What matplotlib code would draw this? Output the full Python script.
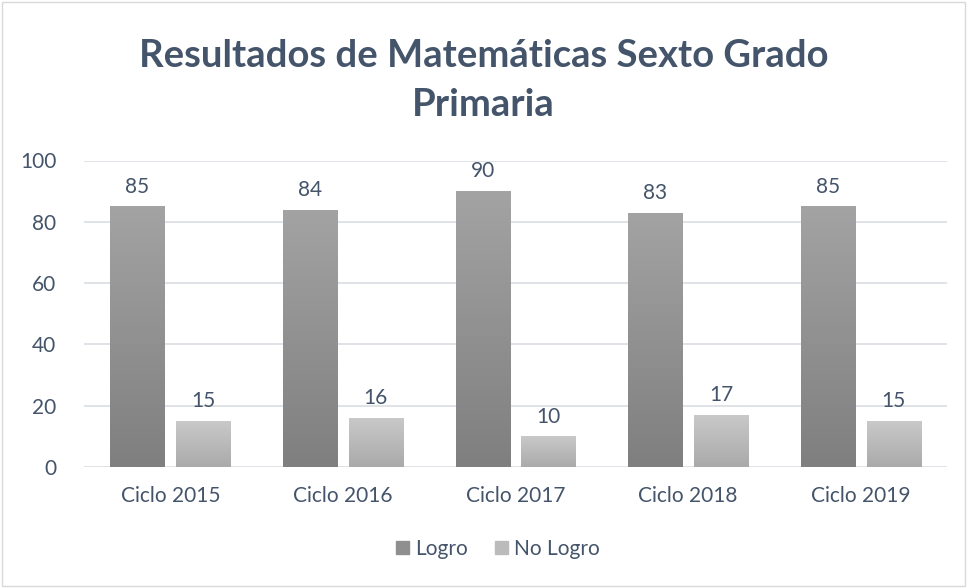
import numpy as np
import matplotlib.pyplot as plt
from matplotlib.colors import LinearSegmentedColormap
from matplotlib.patches import Rectangle

categorias = ["Ciclo 2015", "Ciclo 2016", "Ciclo 2017", "Ciclo 2018", "Ciclo 2019"]
logro = [85, 84, 90, 83, 85]
no_logro = [15, 16, 10, 17, 15]
series = ["Logro", "No Logro"]

txt = "#44546a"
plt.rcParams['font.family'] = ['Lato', 'DejaVu Sans']
fs = 15

fig = plt.figure(figsize=(9.67, 5.88), dpi=100)
ax = fig.add_axes([84/967, 1 - 467/588, (947-84)/967, (467-160.5)/588])

x = np.arange(len(categorias))
w = 0.313
off = 0.191

cm_dark = LinearSegmentedColormap.from_list("d", ["#7f7f7f", "#a3a3a3"])
cm_light = LinearSegmentedColormap.from_list("l", ["#aaaaaa", "#c9c9c9"])
grad = np.linspace(0, 1, 256).reshape(-1, 1)

def barras(pos, vals, cmap):
    bars = ax.bar(pos, vals, w, color="none", edgecolor="none", zorder=2)
    for b in bars:
        x0, y0 = b.get_x(), b.get_y()
        im = ax.imshow(grad, cmap=cmap, origin="lower", aspect="auto",
                       extent=[x0, x0 + b.get_width(), y0, y0 + b.get_height()], zorder=2)
        im.set_clip_path(b)
    return bars

b1 = barras(x - off, logro, cm_dark)
b2 = barras(x + off, no_logro, cm_light)

for bars, vals in ((b1, logro), (b2, no_logro)):
    for b, v in zip(bars, vals):
        ax.text(b.get_x() + b.get_width()/2, v + 3.2, str(v), ha="center", va="bottom",
                fontsize=fs, color=txt)

ax.set_xlim(-0.5, len(categorias) - 0.5)
ax.set_ylim(0, 100)
ax.set_yticks(range(0, 101, 20))
ax.set_xticks(x)
ax.set_xticklabels(categorias)
ax.tick_params(axis="both", length=0, labelsize=fs, labelcolor=txt)
ax.tick_params(axis="x", pad=14)
ax.tick_params(axis="y", pad=20)
ax.yaxis.grid(True, color="#d9dde3", linewidth=1.2, zorder=0)
ax.set_axisbelow(True)
for s in ax.spines.values():
    s.set_visible(False)

fig.text(0.5, 1 - 56/588, "Resultados de Matemáticas Sexto Grado", ha="center", va="center",
         fontsize=27.5, fontweight="bold", color=txt)
fig.text(0.5, 1 - 105/588, "Primaria", ha="center", va="center",
         fontsize=27.5, fontweight="bold", color=txt)

handles = [Rectangle((0, 0), 1, 1, color="#8f8f8f"), Rectangle((0, 0), 1, 1, color="#bbbbbb")]
leg = fig.legend(handles, series, loc="center", bbox_to_anchor=(0.515, 1 - 549/588), ncol=2,
                 frameon=False, fontsize=fs, handlelength=0.6, handleheight=0.6,
                 handletextpad=0.3, columnspacing=1.3)
for t in leg.get_texts():
    t.set_color(txt)

fig.patches.append(Rectangle((2/967, 2/588), 1 - 4/967, 1 - 4/588, transform=fig.transFigure,
                             fill=False, edgecolor="#d9d9d9", linewidth=1))

fig.savefig("out.png", dpi=100)
